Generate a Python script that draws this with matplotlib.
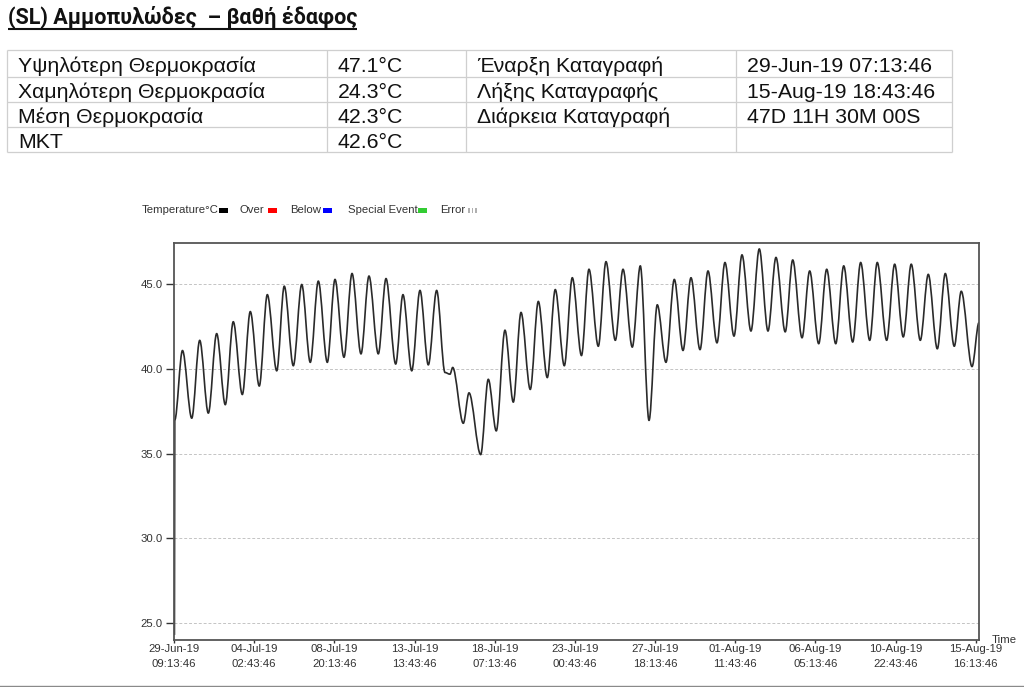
import matplotlib
matplotlib.use("Agg")
import matplotlib.dates as mdates
import matplotlib.pyplot as plt
from matplotlib.patches import PathPatch, Rectangle
from matplotlib.path import Path
import pandas as pd


TITLE = "(SL) Αμμοπυλώδες  – βαθή έδαφος"

STAT_LABELS = ["Υψηλότερη Θερμοκρασία", "Χαμηλότερη Θερμοκρασία", "Μέση Θερμοκρασία", "MKT"]
STAT_VALUES = ["47.1°C", "24.3°C", "42.3°C", "42.6°C"]
RECORD_LABELS = ["Έναρξη Καταγραφή", "Λήξης Καταγραφής", "Διάρκεια Καταγραφή", ""]
RECORD_VALUES = ["29-Jun-19 07:13:46", "15-Aug-19 18:43:46", "47D 11H 30M 00S", ""]

LEGEND_LABELS = ["Temperature°C", "Over", "Below", "Special Event", "Error"]
LEGEND_COLORS = ["#000000", "#ff0000", "#0000ff", "#33cc33", None]

# chart time axis starts at the first reading (shown in local time on the axis)
AXIS_START = "2019-06-29 09:13:46"

# daily highs and lows (hours since first reading, deg C)
HOURS = [
    0.6, 1.1, 12.0, 25.1, 36.4, 48.6, 60.4, 72.6, 83.9, 96.7,
    108.0, 120.7, 132.1, 145.4, 156.1, 168.9, 180.8, 192.9, 204.3, 217.0,
    227.9, 240.6, 252.0, 264.7, 276.0, 289.2, 300.1, 313.8, 324.1, 336.5,
    348.2, 360.0, 371.8, 383.6, 390.7, 394.5, 409.5, 417.6, 434.1, 444.9,
    456.2, 468.5, 480.3, 491.2, 504.3, 515.7, 528.4, 539.7, 552.5, 563.8,
    576.8, 587.4, 600.6, 611.5, 624.7, 635.6, 648.7, 660.1, 672.4, 684.1,
    696.4, 708.2, 720.5, 731.8, 744.6, 755.9, 768.6, 779.9, 792.7, 804.0,
    816.7, 828.5, 840.8, 852.1, 865.2, 875.8, 889.0, 899.8, 912.6, 923.9,
    936.7, 948.0, 960.7, 972.0, 984.8, 995.5, 1008.8, 1020.1, 1032.3, 1043.6,
    1056.4, 1067.7, 1080.5, 1091.8, 1104.5, 1114.4, 1129.6, 1139.5,
]
TEMPS = [
    24.3, 37.0, 41.1, 37.1, 41.7, 37.4, 42.1, 37.9, 42.8, 38.5,
    43.4, 39.0, 44.4, 39.9, 44.9, 40.2, 45.0, 40.4, 45.2, 40.4,
    45.3, 40.7, 45.65, 40.9, 45.5, 40.9, 45.35, 40.3, 44.4, 39.9,
    44.65, 40.25, 44.65, 39.8, 39.7, 40.1, 36.8, 38.6, 34.95, 39.4,
    36.35, 42.3, 38.05, 43.35, 38.8, 44.0, 39.5, 44.7, 40.2, 45.4,
    40.8, 45.9, 41.35, 46.35, 41.7, 45.9, 41.3, 46.1, 36.97, 43.8,
    40.4, 45.3, 41.1, 45.4, 41.15, 45.8, 41.55, 46.3, 41.95, 46.75,
    42.25, 47.1, 42.25, 46.6, 42.2, 46.45, 41.85, 45.8, 41.5, 45.9,
    41.5, 46.1, 41.6, 46.3, 41.7, 46.3, 41.7, 46.2, 41.9, 46.2,
    41.7, 45.6, 41.2, 45.65, 41.35, 44.6, 40.15, 42.75,
]

TICK_LABELS = [
    "29-Jun-19\n09:13:46", "04-Jul-19\n02:43:46", "08-Jul-19\n20:13:46",
    "13-Jul-19\n13:43:46", "18-Jul-19\n07:13:46", "23-Jul-19\n00:43:46",
    "27-Jul-19\n18:13:46", "01-Aug-19\n11:43:46", "06-Aug-19\n05:13:46",
    "10-Aug-19\n22:43:46", "15-Aug-19\n16:13:46",
]
Y_TICKS = [25.0, 30.0, 35.0, 40.0, 45.0]

W, H = 1024, 687
TABLE_FONT = ["Liberation Sans", "DejaVu Sans"]
CHART_FONT = ["Liberation Sans", "DejaVu Sans"]
SMALL = 8.2


def smooth_path(xs, ys):
    # logger software draws the readings as a smooth curve: flat tangents at each high/low
    verts = [(xs[0], ys[0]), (xs[1], ys[1])]
    codes = [Path.MOVETO, Path.LINETO]
    for i in range(1, len(xs) - 1):
        x0, y0, x1, y1 = xs[i], ys[i], xs[i + 1], ys[i + 1]
        dx = (x1 - x0) / 3
        verts += [(x0 + dx, y0), (x1 - dx, y1), (x1, y1)]
        codes += [Path.CURVE4] * 3
    return Path(verts, codes)


def draw_page(fig):
    page = fig.add_axes([0, 0, 1, 1])
    page.set_xlim(0, W)
    page.set_ylim(H, 0)
    page.axis("off")

    title = page.text(8, 17, TITLE, fontsize=15.5, fontweight="bold",
                      family=["Roboto", "DejaVu Sans"], va="center", color="#111111")
    fig.canvas.draw()
    box = title.get_window_extent().transformed(page.transData.inverted())
    page.plot([box.x0, box.x1], [29, 29], color="#111111", lw=1.5,
              solid_capstyle="butt")

    cols = [7, 327, 466, 736, 952]
    rows = [50, 76.5, 101.5, 126.5, 151.5]
    page.hlines(rows, cols[0], cols[-1], color="#cfcfcf", lw=0.9)
    page.vlines(cols, rows[0], rows[-1], color="#cfcfcf", lw=0.9)

    columns = [STAT_LABELS, STAT_VALUES, RECORD_LABELS, RECORD_VALUES]
    for c, texts in enumerate(columns):
        for r, text in enumerate(texts):
            y = (rows[r] + rows[r + 1]) / 2 + 3.5
            page.text(cols[c] + 11, y, text, fontsize=15.3, family=TABLE_FONT,
                      va="center", ha="left", color="#111111")

    # legend strip above the chart
    text_x = [141.5, 240, 290, 348, 440]
    patch_x = [219, 268, 323, 418, 468]
    for label, color, tx, px in zip(LEGEND_LABELS, LEGEND_COLORS, text_x, patch_x):
        page.text(tx, 210, label, fontsize=SMALL, family=CHART_FONT,
                  va="center", ha="left", color="#333333")
        if color is None:
            for k in range(3):
                page.add_patch(Rectangle((px + k * 3.5, 207.5), 1.5, 5,
                                         facecolor="#b0b0b0", lw=0))
        else:
            page.add_patch(Rectangle((px, 207.5), 9, 5, facecolor=color, lw=0))

    page.plot([0, W], [685.5, 685.5], color="#8a8a8a", lw=1)
    page.text(1004, 640, "Time", fontsize=SMALL, family=CHART_FONT,
              va="center", ha="center", color="#333333")


def draw_chart(fig):
    left, right, top, bottom = 174, 979, 243, 640
    ax = fig.add_axes([left / W, 1 - bottom / H, (right - left) / W, (bottom - top) / H])

    start = pd.Timestamp(AXIS_START)
    times = start + pd.to_timedelta(HOURS, unit="h")
    xs = mdates.date2num(times.to_pydatetime())
    ax.add_patch(PathPatch(smooth_path(xs, TEMPS), facecolor="none",
                           edgecolor="#2a2a2a", lw=1.2, joinstyle="round"))

    ax.set_xlim(mdates.date2num(start), xs[-1])
    ax.set_ylim(24.0, 47.45)

    tick_times = pd.to_datetime(TICK_LABELS, format="%d-%b-%y\n%H:%M:%S")
    ax.set_xticks(mdates.date2num(tick_times.to_pydatetime()))
    ax.set_xticklabels(TICK_LABELS, linespacing=1.65, family=CHART_FONT)
    ax.set_yticks(Y_TICKS)
    ax.set_yticklabels([f"{v:.1f}" for v in Y_TICKS], family=CHART_FONT)

    ax.yaxis.grid(True, linestyle=(0, (3, 2)), color="#c4c4c4", lw=0.7)
    ax.set_axisbelow(True)
    for spine in ax.spines.values():
        spine.set_color("#555555")
        spine.set_linewidth(1.3)
    ax.tick_params(axis="both", labelsize=SMALL, colors="#333333", width=1)
    ax.tick_params(axis="y", length=6, pad=2)
    ax.tick_params(axis="x", length=2, pad=1)


def main():
    fig = plt.figure(figsize=(W / 100, H / 100), dpi=100)
    fig.patch.set_facecolor("white")
    draw_page(fig)
    draw_chart(fig)
    fig.savefig("out.png", dpi=100)
    plt.close(fig)


if __name__ == "__main__":
    main()
